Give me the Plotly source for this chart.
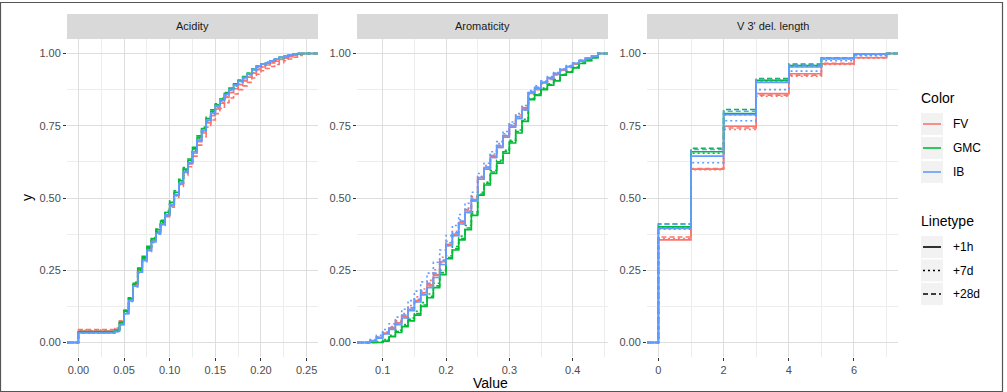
import plotly.graph_objects as go

W, H = 1007, 392

# ---------------- data ----------------
groups = ["FV", "GMC", "IB"]
linetypes = ["+1h", "+7d", "+28d"]
panel_titles = ["Acidity", "Aromaticity", "V 3' del. length"]

# Acidity ECDF step positions and cumulative fractions
ac_x = [0.0, 0.04, 0.045, 0.05, 0.055, 0.06, 0.065, 0.07, 0.075, 0.08, 0.085, 0.09, 0.095,
        0.1, 0.105, 0.11, 0.115, 0.12, 0.125, 0.13, 0.135, 0.14, 0.145, 0.15, 0.155, 0.16,
        0.165, 0.17, 0.175, 0.18, 0.185, 0.19, 0.195, 0.2, 0.205, 0.21, 0.215, 0.22, 0.225,
        0.23, 0.235, 0.24, 0.245]
ac_FV_1h = [0.04, 0.046, 0.072, 0.11, 0.152, 0.2, 0.25, 0.29, 0.325, 0.355, 0.383, 0.41, 0.44,
            0.475, 0.51, 0.548, 0.588, 0.618, 0.655, 0.695, 0.725, 0.76, 0.785, 0.808, 0.828,
            0.848, 0.864, 0.878, 0.892, 0.905, 0.918, 0.932, 0.944, 0.953, 0.96, 0.967, 0.973,
            0.979, 0.984, 0.989, 0.993, 0.997, 1.0]
ac_FV_7d = [0.043, 0.048, 0.074, 0.112, 0.155, 0.203, 0.252, 0.292, 0.327, 0.357, 0.385, 0.413,
            0.443, 0.478, 0.513, 0.55, 0.59, 0.62, 0.658, 0.698, 0.728, 0.762, 0.788, 0.81, 0.83,
            0.85, 0.866, 0.88, 0.894, 0.907, 0.92, 0.934, 0.946, 0.955, 0.962, 0.969, 0.975,
            0.981, 0.986, 0.99, 0.994, 0.998, 1.0]
ac_FV_28d = [0.045, 0.05, 0.075, 0.113, 0.155, 0.2, 0.248, 0.288, 0.322, 0.352, 0.38, 0.407,
             0.435, 0.468, 0.502, 0.54, 0.578, 0.608, 0.645, 0.683, 0.712, 0.745, 0.77, 0.792,
             0.81, 0.83, 0.846, 0.86, 0.875, 0.888, 0.9, 0.915, 0.928, 0.94, 0.948, 0.955,
             0.962, 0.968, 0.975, 0.981, 0.987, 0.993, 1.0]
ac_GMC_1h = [0.037, 0.042, 0.068, 0.108, 0.152, 0.205, 0.255, 0.295, 0.33, 0.36, 0.39, 0.42,
             0.45, 0.485, 0.52, 0.56, 0.6, 0.63, 0.67, 0.71, 0.74, 0.775, 0.8, 0.822, 0.842,
             0.862, 0.878, 0.892, 0.905, 0.918, 0.93, 0.945, 0.955, 0.963, 0.968, 0.975, 0.98,
             0.986, 0.99, 0.994, 0.997, 1.0, 1.0]
ac_GMC_7d = [0.036, 0.041, 0.066, 0.105, 0.15, 0.2, 0.25, 0.29, 0.325, 0.355, 0.385, 0.415,
             0.445, 0.48, 0.515, 0.555, 0.595, 0.625, 0.665, 0.705, 0.735, 0.77, 0.795, 0.818,
             0.84, 0.86, 0.875, 0.89, 0.903, 0.915, 0.928, 0.942, 0.953, 0.961, 0.967, 0.974,
             0.98, 0.985, 0.99, 0.994, 0.997, 1.0, 1.0]
ac_GMC_28d = [0.038, 0.043, 0.07, 0.11, 0.155, 0.208, 0.258, 0.298, 0.333, 0.363, 0.393, 0.423,
              0.455, 0.49, 0.525, 0.565, 0.605, 0.635, 0.675, 0.715, 0.745, 0.78, 0.805, 0.826,
              0.846, 0.865, 0.88, 0.895, 0.908, 0.92, 0.932, 0.947, 0.957, 0.964, 0.969, 0.976,
              0.981, 0.987, 0.991, 0.995, 0.998, 1.0, 1.0]
ac_IB_1h = [0.033, 0.038, 0.062, 0.1, 0.145, 0.195, 0.243, 0.283, 0.318, 0.348, 0.378, 0.408,
            0.44, 0.475, 0.51, 0.55, 0.59, 0.622, 0.66, 0.7, 0.732, 0.768, 0.794, 0.818, 0.838,
            0.858, 0.875, 0.89, 0.903, 0.916, 0.929, 0.944, 0.955, 0.963, 0.968, 0.975, 0.98,
            0.986, 0.99, 0.995, 0.998, 1.0, 1.0]
ac_IB_7d = [0.032, 0.037, 0.06, 0.098, 0.142, 0.192, 0.24, 0.28, 0.315, 0.345, 0.375, 0.405,
            0.437, 0.472, 0.507, 0.546, 0.586, 0.618, 0.656, 0.696, 0.728, 0.764, 0.79, 0.814,
            0.835, 0.855, 0.872, 0.887, 0.9, 0.913, 0.926, 0.941, 0.952, 0.96, 0.966, 0.973,
            0.979, 0.985, 0.989, 0.993, 0.997, 1.0, 1.0]
ac_IB_28d = [0.034, 0.039, 0.063, 0.101, 0.146, 0.196, 0.244, 0.285, 0.32, 0.35, 0.38, 0.41,
             0.442, 0.477, 0.512, 0.552, 0.592, 0.624, 0.662, 0.702, 0.734, 0.77, 0.796, 0.82,
             0.84, 0.86, 0.876, 0.891, 0.904, 0.917, 0.93, 0.945, 0.956, 0.964, 0.969, 0.976,
             0.981, 0.987, 0.991, 0.995, 0.998, 1.0, 1.0]

# Aromaticity ECDF
ar_x = [0.08, 0.09, 0.10, 0.11, 0.12, 0.13, 0.14, 0.15, 0.16, 0.17, 0.18, 0.19, 0.20, 0.21,
        0.22, 0.23, 0.24, 0.25, 0.26, 0.27, 0.28, 0.29, 0.30, 0.31, 0.32, 0.33, 0.34, 0.35,
        0.36, 0.37, 0.38, 0.39, 0.40, 0.41, 0.42, 0.43, 0.44]
ar_FV_1h = [0.006, 0.017, 0.033, 0.05, 0.068, 0.09, 0.115, 0.145, 0.172, 0.2, 0.235, 0.28,
            0.34, 0.375, 0.415, 0.455, 0.495, 0.57, 0.605, 0.645, 0.68, 0.715, 0.75, 0.78,
            0.81, 0.862, 0.878, 0.898, 0.913, 0.928, 0.942, 0.953, 0.964, 0.974, 0.982, 0.99, 1.0]
ar_FV_7d = [0.008, 0.02, 0.037, 0.055, 0.075, 0.1, 0.128, 0.158, 0.185, 0.215, 0.252, 0.295,
            0.35, 0.385, 0.425, 0.465, 0.505, 0.575, 0.612, 0.652, 0.688, 0.722, 0.757, 0.787,
            0.815, 0.865, 0.882, 0.9, 0.915, 0.93, 0.944, 0.955, 0.965, 0.975, 0.983, 0.99, 1.0]
ar_FV_28d = [0.005, 0.015, 0.03, 0.047, 0.065, 0.087, 0.112, 0.14, 0.168, 0.196, 0.232, 0.276,
             0.335, 0.37, 0.41, 0.45, 0.49, 0.565, 0.6, 0.64, 0.675, 0.71, 0.745, 0.775, 0.805,
             0.858, 0.875, 0.895, 0.91, 0.926, 0.94, 0.952, 0.963, 0.973, 0.981, 0.989, 1.0]
ar_GMC_1h = [0.0, 0.0, 0.005, 0.02, 0.035, 0.055, 0.075, 0.095, 0.125, 0.155, 0.19, 0.235,
             0.29, 0.32, 0.355, 0.39, 0.44, 0.51, 0.545, 0.585, 0.62, 0.655, 0.69, 0.725, 0.765,
             0.84, 0.855, 0.875, 0.89, 0.905, 0.925, 0.935, 0.95, 0.965, 0.975, 0.985, 1.0]
ar_GMC_7d = [0.0, 0.002, 0.01, 0.025, 0.042, 0.062, 0.085, 0.108, 0.138, 0.168, 0.205, 0.25,
             0.3, 0.332, 0.368, 0.405, 0.452, 0.52, 0.555, 0.595, 0.63, 0.665, 0.7, 0.735, 0.772,
             0.845, 0.86, 0.88, 0.895, 0.91, 0.928, 0.938, 0.953, 0.967, 0.977, 0.986, 1.0]
ar_GMC_28d = [0.0, 0.001, 0.008, 0.022, 0.038, 0.058, 0.08, 0.1, 0.13, 0.16, 0.196, 0.242,
              0.294, 0.325, 0.36, 0.396, 0.445, 0.514, 0.55, 0.59, 0.625, 0.66, 0.695, 0.73,
              0.768, 0.842, 0.857, 0.877, 0.892, 0.907, 0.926, 0.936, 0.951, 0.966, 0.976, 0.985, 1.0]
ar_IB_1h = [0.005, 0.015, 0.03, 0.045, 0.062, 0.085, 0.11, 0.14, 0.165, 0.19, 0.225, 0.27,
            0.335, 0.37, 0.41, 0.45, 0.49, 0.565, 0.6, 0.64, 0.675, 0.71, 0.745, 0.775, 0.805,
            0.865, 0.88, 0.9, 0.915, 0.93, 0.945, 0.955, 0.965, 0.975, 0.983, 0.99, 1.0]
ar_IB_7d = [0.01, 0.025, 0.045, 0.065, 0.088, 0.115, 0.145, 0.178, 0.21, 0.24, 0.278, 0.32,
            0.37, 0.405, 0.443, 0.482, 0.52, 0.585, 0.62, 0.66, 0.695, 0.73, 0.763, 0.792,
            0.82, 0.872, 0.888, 0.905, 0.92, 0.934, 0.947, 0.958, 0.968, 0.977, 0.985, 0.992, 1.0]
ar_IB_28d = [0.007, 0.018, 0.035, 0.052, 0.072, 0.095, 0.12, 0.15, 0.178, 0.205, 0.24, 0.285,
             0.345, 0.38, 0.42, 0.46, 0.5, 0.572, 0.607, 0.647, 0.682, 0.717, 0.752, 0.782,
             0.812, 0.868, 0.883, 0.902, 0.917, 0.932, 0.945, 0.956, 0.966, 0.976, 0.984, 0.991, 1.0]

# V 3' deletion length ECDF
vd_x = [0, 1, 2, 3, 4, 5, 6, 7]
vd_FV_1h = [0.355, 0.60, 0.748, 0.861, 0.93, 0.964, 0.985, 1.0]
vd_FV_7d = [0.36, 0.598, 0.737, 0.852, 0.921, 0.962, 0.984, 1.0]
vd_FV_28d = [0.365, 0.602, 0.742, 0.856, 0.925, 0.966, 0.986, 1.0]
vd_GMC_1h = [0.40, 0.66, 0.792, 0.907, 0.958, 0.983, 0.997, 1.0]
vd_GMC_7d = [0.398, 0.655, 0.788, 0.905, 0.955, 0.982, 0.996, 1.0]
vd_GMC_28d = [0.41, 0.672, 0.806, 0.913, 0.963, 0.985, 0.998, 1.0]
vd_IB_1h = [0.395, 0.645, 0.788, 0.90, 0.953, 0.982, 0.997, 1.0]
vd_IB_7d = [0.392, 0.622, 0.767, 0.875, 0.939, 0.975, 0.992, 1.0]
vd_IB_28d = [0.41, 0.668, 0.80, 0.91, 0.96, 0.984, 0.998, 1.0]

panels = [
    (ac_x, {("FV", "+1h"): ac_FV_1h, ("FV", "+7d"): ac_FV_7d, ("FV", "+28d"): ac_FV_28d,
            ("GMC", "+1h"): ac_GMC_1h, ("GMC", "+7d"): ac_GMC_7d, ("GMC", "+28d"): ac_GMC_28d,
            ("IB", "+1h"): ac_IB_1h, ("IB", "+7d"): ac_IB_7d, ("IB", "+28d"): ac_IB_28d}),
    (ar_x, {("FV", "+1h"): ar_FV_1h, ("FV", "+7d"): ar_FV_7d, ("FV", "+28d"): ar_FV_28d,
            ("GMC", "+1h"): ar_GMC_1h, ("GMC", "+7d"): ar_GMC_7d, ("GMC", "+28d"): ar_GMC_28d,
            ("IB", "+1h"): ar_IB_1h, ("IB", "+7d"): ar_IB_7d, ("IB", "+28d"): ar_IB_28d}),
    (vd_x, {("FV", "+1h"): vd_FV_1h, ("FV", "+7d"): vd_FV_7d, ("FV", "+28d"): vd_FV_28d,
            ("GMC", "+1h"): vd_GMC_1h, ("GMC", "+7d"): vd_GMC_7d, ("GMC", "+28d"): vd_GMC_28d,
            ("IB", "+1h"): vd_IB_1h, ("IB", "+7d"): vd_IB_7d, ("IB", "+28d"): vd_IB_28d}),
]

# ---------------- style ----------------
colors = {"FV": "#F8766D", "GMC": "#00BA38", "IB": "#619CFF"}
dashes = {"+1h": "solid", "+7d": "2px,3px", "+28d": "5px,3px"}
FONT = "Liberation Sans, Arial, sans-serif"

x_ranges = [[-0.0125, 0.2625], [0.0594, 0.4558], [-0.35, 7.35]]
x_dtick = [0.05, 0.1, 2]
x_tick0 = [0, 0, 0]
x_fmt = [".2f", ".1f", "d"]
px_domains = [(67, 318), (357, 608), (647, 898)]
py_top, py_bot = 39, 357
strip_top = 14

def fx(px):
    return px / W

def fy(py):
    return 1 - py / H

fig = go.Figure()

for i, (xs, series) in enumerate(panels):
    ax = "" if i == 0 else str(i + 1)
    lo, hi = x_ranges[i]
    for g in groups:
        for lt in linetypes:
            ys = series[(g, lt)]
            n = min(len(xs), len(ys))
            xx = [lo] + list(xs[:n]) + [hi]
            yy = [0.0] + list(ys[:n]) + [ys[n - 1]]
            fig.add_trace(go.Scatter(
                x=xx, y=yy, mode="lines", line_shape="hv",
                line=dict(color=colors[g], dash=dashes[lt], width=1.6),
                xaxis="x" + ax, yaxis="y" + ax, showlegend=False, hoverinfo="skip"))

grid_major = "#DEDEDE"
grid_minor = "#EDEDED"
tickfont = dict(family=FONT, size=11, color="#4D4D4D")

layout = dict(
    width=W, height=H, margin=dict(l=0, r=0, t=0, b=0),
    paper_bgcolor="white", plot_bgcolor="white", showlegend=False,
    font=dict(family=FONT),
)
for i in range(3):
    ax = "" if i == 0 else str(i + 1)
    x0, x1 = px_domains[i]
    layout["xaxis" + ax] = dict(
        domain=[fx(x0), fx(x1)], range=x_ranges[i], anchor="y" + ax,
        tick0=x_tick0[i], dtick=x_dtick[i], tickformat=x_fmt[i],
        showgrid=True, gridcolor=grid_major, gridwidth=1.1,
        minor=dict(dtick=x_dtick[i] / 2, tick0=x_tick0[i], showgrid=True,
                   gridcolor=grid_minor, gridwidth=0.8),
        ticks="outside", ticklen=3, tickwidth=1, tickcolor="#333333",
        tickfont=tickfont, zeroline=False, showline=False, fixedrange=True)
    layout["yaxis" + ax] = dict(
        domain=[fy(py_bot), fy(py_top)], range=[-0.05, 1.05], anchor="x" + ax,
        tick0=0, dtick=0.25, tickformat=".2f",
        showgrid=True, gridcolor=grid_major, gridwidth=1.1,
        minor=dict(dtick=0.125, tick0=0, showgrid=True, gridcolor=grid_minor, gridwidth=0.8),
        ticks="outside", ticklen=3, tickwidth=1, tickcolor="#333333",
        tickfont=tickfont, zeroline=False, showline=False, fixedrange=True)

shapes = []
annotations = []
# strips
for i, t in enumerate(panel_titles):
    x0, x1 = px_domains[i]
    shapes.append(dict(type="rect", xref="paper", yref="paper",
                       x0=fx(x0), x1=fx(x1), y0=fy(py_top), y1=fy(strip_top),
                       fillcolor="#D9D9D9", line=dict(width=0), layer="below"))
    annotations.append(dict(text=t, xref="paper", yref="paper",
                            x=fx((x0 + x1) / 2), y=fy((py_top + strip_top) / 2),
                            showarrow=False, xanchor="center", yanchor="middle",
                            font=dict(family=FONT, size=11, color="#1A1A1A")))

# axis titles
annotations.append(dict(text="Value", xref="paper", yref="paper", x=fx(490), y=fy(383),
                        showarrow=False, xanchor="center", yanchor="middle",
                        font=dict(family=FONT, size=14, color="#000000")))
annotations.append(dict(text="y", xref="paper", yref="paper", x=fx(27), y=fy(198),
                        showarrow=False, xanchor="center", yanchor="middle", textangle=-90,
                        font=dict(family=FONT, size=14, color="#000000")))

# legend (drawn manually)
key_x0, key_x1 = 921, 943
lab_x = 951
title_font = dict(family=FONT, size=14, color="#000000")
lab_font = dict(family=FONT, size=12, color="#000000")
annotations.append(dict(text="Color", xref="paper", yref="paper", x=fx(919), y=fy(98),
                        showarrow=False, xanchor="left", yanchor="middle", font=title_font))
for k, g in enumerate(groups):
    top = 113 + 24 * k
    cy = top + 11
    shapes.append(dict(type="rect", xref="paper", yref="paper", x0=fx(key_x0), x1=fx(key_x1),
                       y0=fy(top + 22), y1=fy(top), fillcolor="#F2F2F2", line=dict(width=0)))
    shapes.append(dict(type="line", xref="paper", yref="paper", x0=fx(key_x0 + 2),
                       x1=fx(key_x1 - 2), y0=fy(cy), y1=fy(cy),
                       line=dict(color=colors[g], width=1.6)))
    annotations.append(dict(text=g, xref="paper", yref="paper", x=fx(lab_x), y=fy(cy),
                            showarrow=False, xanchor="left", yanchor="middle", font=lab_font))

annotations.append(dict(text="Linetype", xref="paper", yref="paper", x=fx(919), y=fy(221),
                        showarrow=False, xanchor="left", yanchor="middle", font=title_font))
for k, lt in enumerate(linetypes):
    top = 236 + 23.5 * k
    cy = top + 11
    shapes.append(dict(type="rect", xref="paper", yref="paper", x0=fx(key_x0), x1=fx(key_x1),
                       y0=fy(top + 22), y1=fy(top), fillcolor="#F2F2F2", line=dict(width=0)))
    shapes.append(dict(type="line", xref="paper", yref="paper", x0=fx(key_x0 + 2),
                       x1=fx(key_x1 - 2), y0=fy(cy), y1=fy(cy),
                       line=dict(color="#000000", width=1.6, dash=dashes[lt])))
    annotations.append(dict(text=lt, xref="paper", yref="paper", x=fx(lab_x), y=fy(cy),
                            showarrow=False, xanchor="left", yanchor="middle", font=lab_font))

# outer frame
shapes.append(dict(type="rect", xref="paper", yref="paper", x0=fx(0.5), x1=fx(1002.5),
                   y0=fy(391.5), y1=fy(2.5), line=dict(color="#555555", width=1.2),
                   fillcolor="rgba(0,0,0,0)"))

layout["shapes"] = shapes
layout["annotations"] = annotations
fig.update_layout(**layout)
fig.write_html("out.html")
